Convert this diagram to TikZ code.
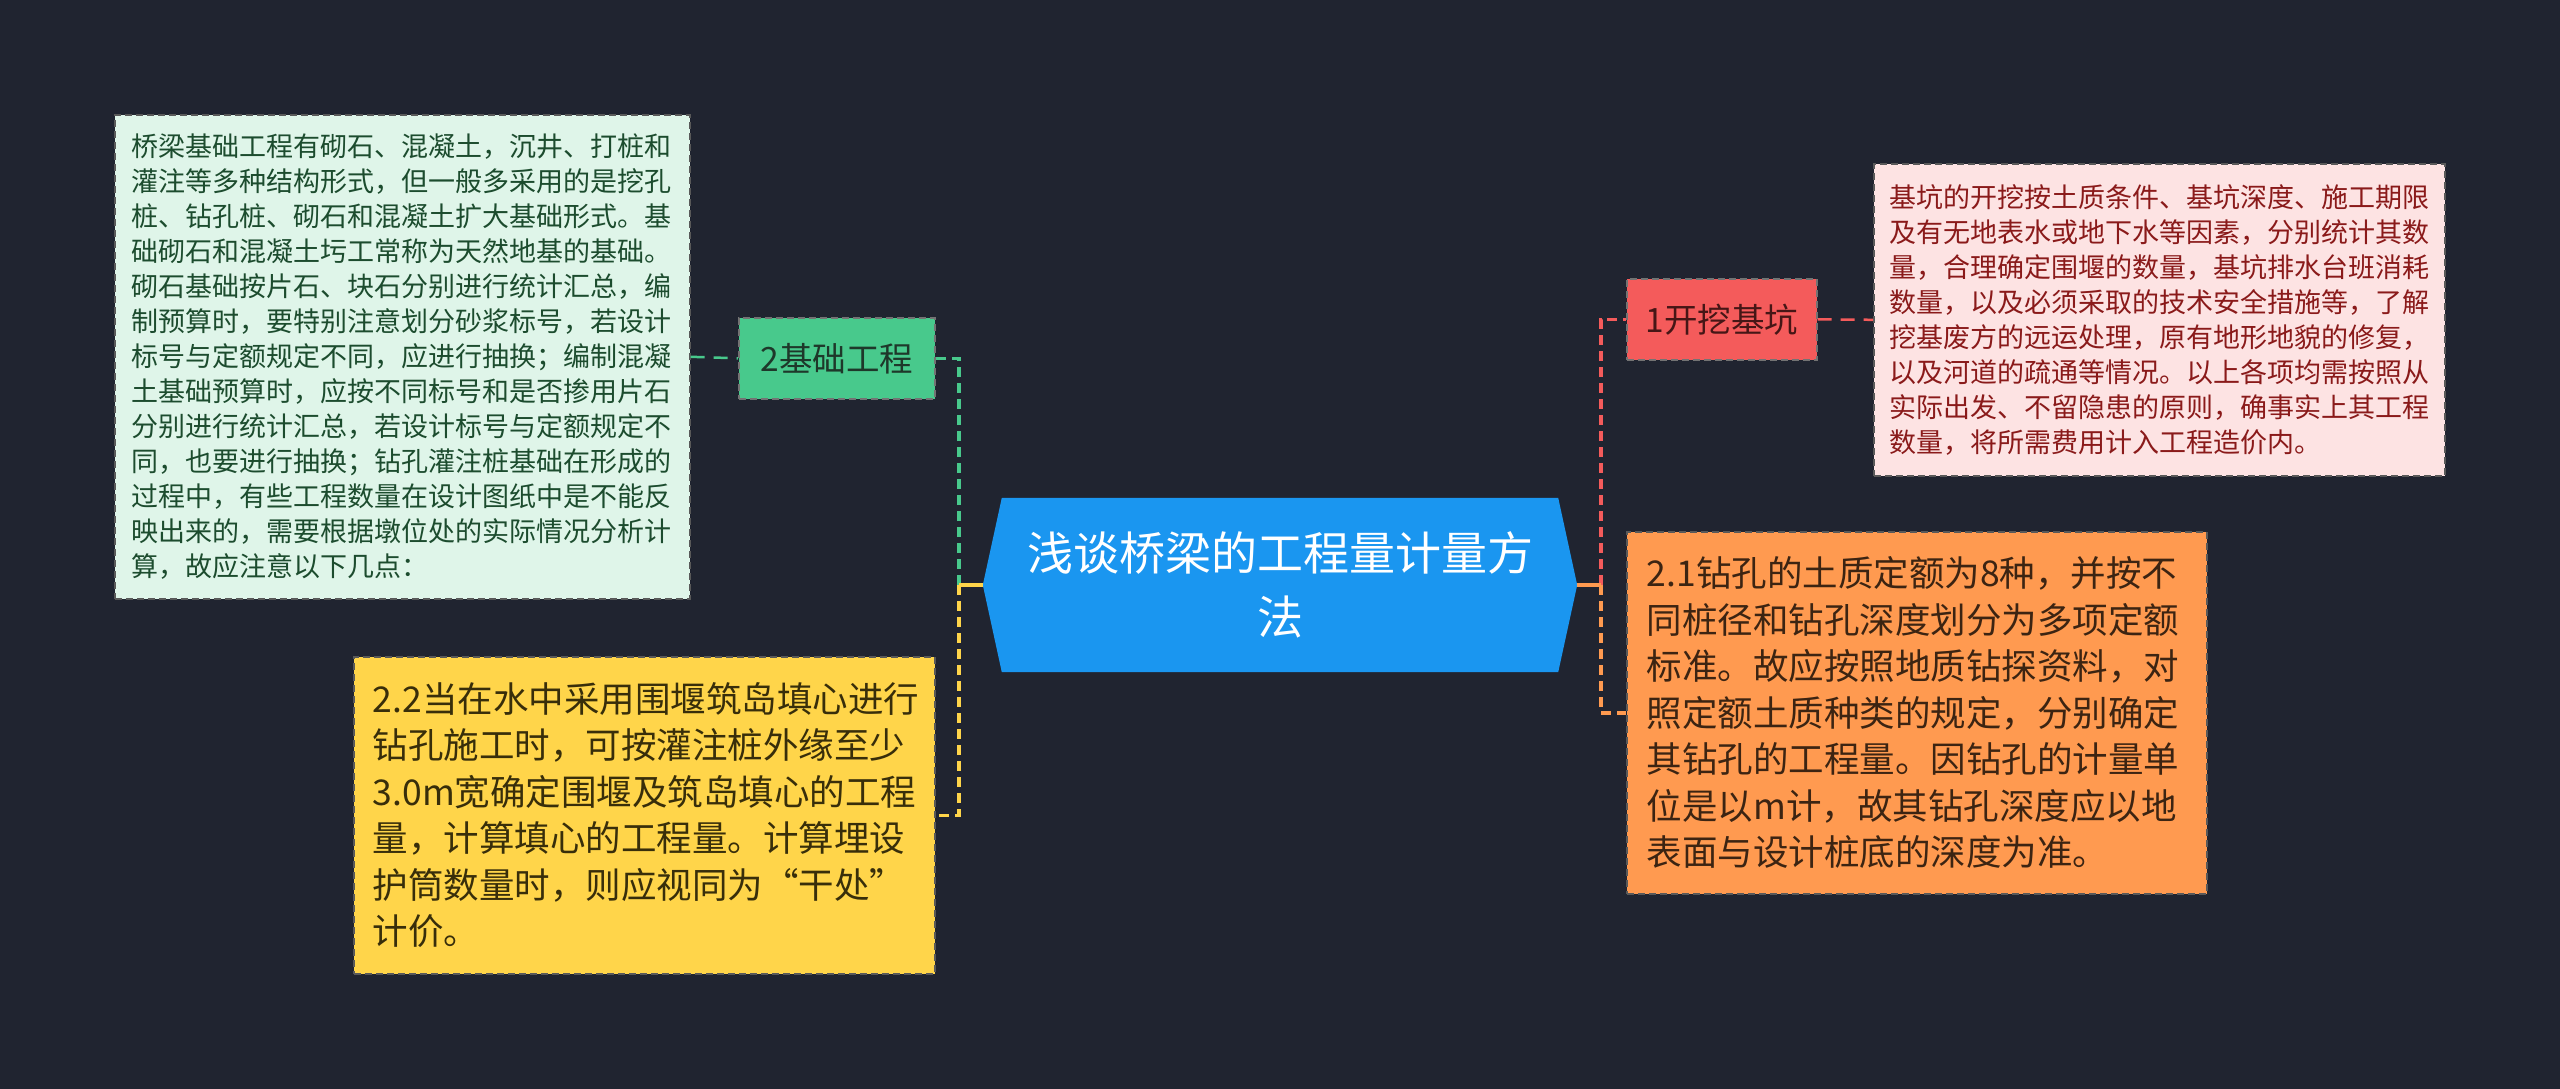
\documentclass[tikz,border=0pt]{standalone}
\usepackage{fontspec}
\newfontfamily\cjk{Noto Sans CJK SC}
\usetikzlibrary{backgrounds}
\definecolor{bgc}{RGB}{32,36,48}
\definecolor{cfill}{RGB}{26,150,240}
\definecolor{gfill}{RGB}{72,201,140}
\definecolor{gtext}{RGB}{30,56,42}
\definecolor{gdfill}{RGB}{223,245,233}
\definecolor{gdtext}{RGB}{28,76,46}
\definecolor{yfill}{RGB}{255,213,74}
\definecolor{ytext}{RGB}{56,46,10}
\definecolor{rfill}{RGB}{244,91,91}
\definecolor{rtext}{RGB}{70,22,22}
\definecolor{pfill}{RGB}{253,227,227}
\definecolor{ptext}{RGB}{138,26,26}
\definecolor{ofill}{RGB}{255,154,80}
\definecolor{otext}{RGB}{60,36,18}
\definecolor{gline}{RGB}{72,201,140}
\definecolor{yline}{RGB}{255,213,74}
\definecolor{rline}{RGB}{244,91,91}
\definecolor{oline}{RGB}{255,154,80}
\tikzset{
  box/.style={draw=black!65, line width=1.6pt, dash pattern=on 7pt off 4pt, anchor=north west, align=left, inner ysep=0pt},
  smallbox/.style={draw=black!55, line width=1.6pt, dash pattern=on 7pt off 4pt, anchor=north west, align=center, inner sep=0pt, font=\cjk\fontsize{33.5}{40}\selectfont},
  branch/.style={line width=3.5pt, dash pattern=on 10pt off 6pt},
  stub/.style={line width=3.5pt},
  link/.style={line width=2.5pt, dash pattern=on 14pt off 9pt}
}
\begin{document}
\begin{tikzpicture}[x=1pt,y=-1pt]
\useasboundingbox (0,0) rectangle (2560,1089);
% central topic
\node[minimum width=594pt, minimum height=174pt, inner sep=0pt, text=white, align=center,
      font=\cjk\fontsize{46}{64}\selectfont] (c) at (1280,585) {浅谈桥梁的工程量计量方\\法};
\begin{scope}[on background layer]
  \fill[bgc] (0,0) rectangle (2560,1089);
  \fill[cfill] (c.west) -- ([xshift=19pt]c.north west) -- ([xshift=-19pt]c.north east)
     -- (c.east) -- ([xshift=-19pt]c.south east) -- ([xshift=19pt]c.south west) -- cycle;
\end{scope}
% left side
\node[smallbox, fill=gfill, text=gtext, minimum width=196pt, minimum height=81pt] (g2) at (738,317) {2基础工程};
\node[box, fill=gdfill, text=gdtext, minimum width=575pt, minimum height=484pt, inner xsep=17pt, text width=541pt,
      font=\cjk\fontsize{27}{35}\selectfont] (gd) at (114,114)
{桥梁基础工程有砌石、混凝土，沉井、打桩和\\
灌注等多种结构形式，但一般多采用的是挖孔\\
桩、钻孔桩、砌石和混凝土扩大基础形式。基\\
础砌石和混凝土圬工常称为天然地基的基础。\\
砌石基础按片石、块石分别进行统计汇总，编\\
制预算时，要特别注意划分砂浆标号，若设计\\
标号与定额规定不同，应进行抽换；编制混凝\\
土基础预算时，应按不同标号和是否掺用片石\\
分别进行统计汇总，若设计标号与定额规定不\\
同，也要进行抽换；钻孔灌注桩基础在形成的\\
过程中，有些工程数量在设计图纸中是不能反\\
映出来的，需要根据墩位处的实际情况分析计\\
算，故应注意以下几点：};
\node[box, fill=yfill, text=ytext, minimum width=581pt, minimum height=317pt, inner xsep=19pt, text width=543pt,
      font=\cjk\fontsize{35.5}{46.5}\selectfont] (y) at (353,656)
{2.2当在水中采用围堰筑岛填心进行\\
钻孔施工时，可按灌注桩外缘至少\\
3.0m宽确定围堰及筑岛填心的工程\\
量，计算填心的工程量。计算埋设\\
护筒数量时，则应视同为“干处”\\
计价。};
% right side
\node[smallbox, fill=rfill, text=rtext, minimum width=190pt, minimum height=81pt] (r1) at (1626,278) {1开挖基坑};
\node[box, fill=pfill, text=ptext, minimum width=571pt, minimum height=312pt, inner xsep=16pt, text width=539pt,
      font=\cjk\fontsize{27}{35}\selectfont] (pd) at (1873,163)
{基坑的开挖按土质条件、基坑深度、施工期限\\
及有无地表水或地下水等因素，分别统计其数\\
量，合理确定围堰的数量，基坑排水台班消耗\\
数量，以及必须采取的技术安全措施等，了解\\
挖基废方的远运处理，原有地形地貌的修复，\\
以及河道的疏通等情况。以上各项均需按照从\\
实际出发、不留隐患的原则，确事实上其工程\\
数量，将所需费用计入工程造价内。};
\node[box, fill=ofill, text=otext, minimum width=580pt, minimum height=362pt, inner xsep=20pt, text width=540pt,
      font=\cjk\fontsize{35.5}{46.5}\selectfont] (o) at (1626,531)
{2.1钻孔的土质定额为8种，并按不\\
同桩径和钻孔深度划分为多项定额\\
标准。故应按照地质钻探资料，对\\
照定额土质种类的规定，分别确定\\
其钻孔的工程量。因钻孔的计量单\\
位是以m计，故其钻孔深度应以地\\
表面与设计桩底的深度为准。};
% connectors
\coordinate (cl) at (959,585);
\coordinate (cr) at (1601,585);
\draw[branch, gline] (cl) |- (g2.east);
\draw[branch, yline] (cl) |- (y.east);
\draw[stub, yline] (c.west) -- (cl);
\draw[branch, rline] (cr) |- (r1.west);
\draw[branch, oline] (cr) |- (o.west);
\draw[stub, oline] (c.east) -- (cr);
\draw[link, gline] (gd.east) -- (g2.west);
\draw[link, rline] (r1.east) -- (pd.west);
\end{tikzpicture}
\end{document}
